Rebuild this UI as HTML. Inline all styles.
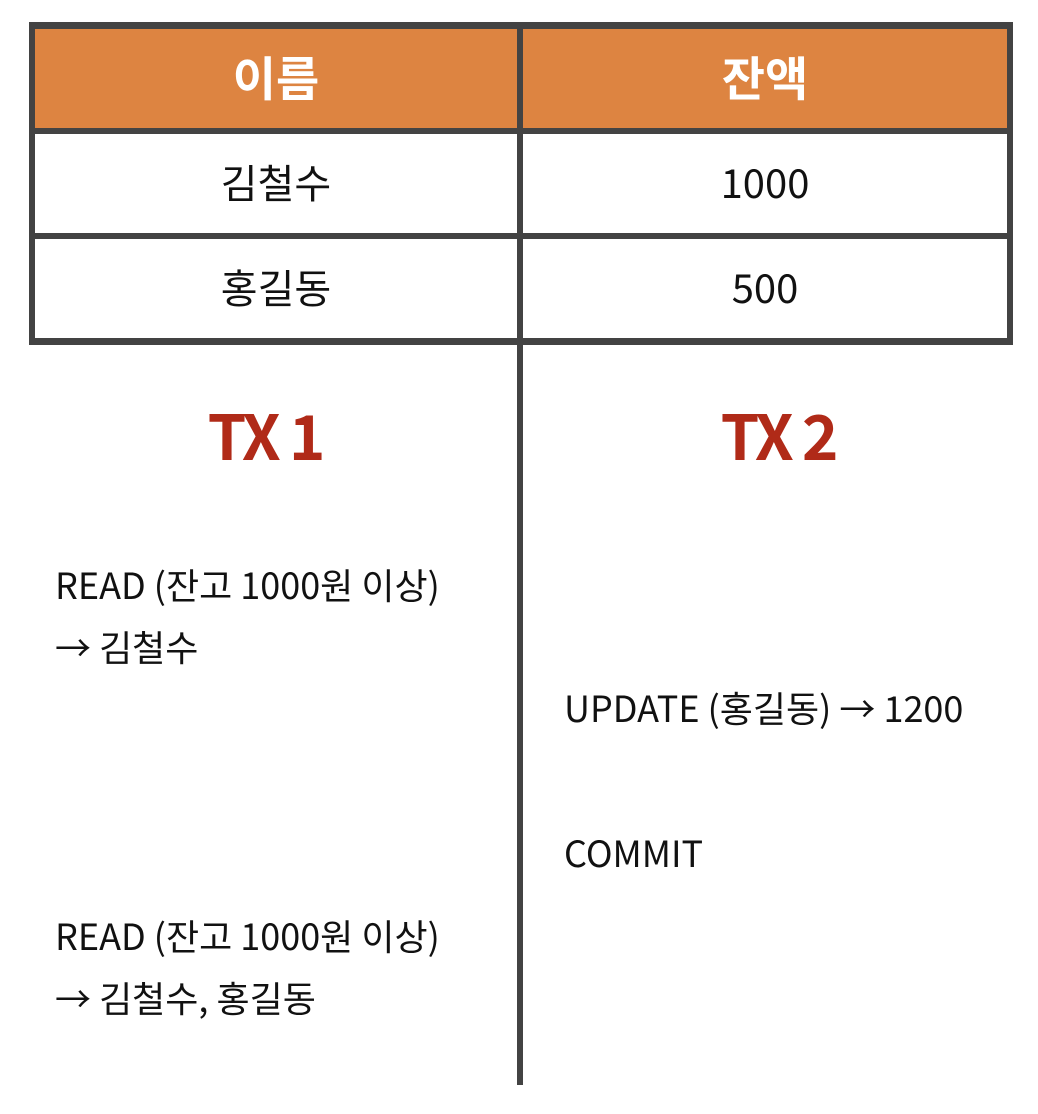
<!DOCTYPE html>
<html><head><meta charset="utf-8"><style>
body{margin:0;width:1038px;height:1114px;background:#fff;position:relative;overflow:hidden;font-family:"Noto Sans CJK KR","Liberation Sans",sans-serif;}
div{position:absolute;}
.b{background:#434343;}
.c{display:flex;align-items:center;justify-content:center;font-size:40px;color:#111;padding-bottom:6px;box-sizing:border-box;}
.t{font-size:36px;color:#111;white-space:nowrap;line-height:1;}
.tx{font-size:62px;font-weight:bold;color:#B02A18;letter-spacing:-3px;text-align:center;width:300px;line-height:1;}
</style></head><body>
<div style="left:29px;top:22px;width:984px;height:110px;background:#DD8441;"></div>
<div class="c" style="left:35px;top:29px;width:482px;height:99px;color:#fff;font-weight:bold;font-size:47px;">이름</div>
<div class="c" style="left:523px;top:29px;width:484px;height:99px;color:#fff;font-weight:bold;font-size:47px;">잔액</div>
<div class="c" style="left:35px;top:134px;width:482px;height:99px;">김철수</div>
<div class="c" style="left:523px;top:134px;width:484px;height:99px;">1000</div>
<div class="c" style="left:35px;top:239px;width:482px;height:99px;">홍길동</div>
<div class="c" style="left:523px;top:239px;width:484px;height:99px;">500</div>
<div class="b" style="left:29px;top:22px;width:984px;height:7px;"></div>
<div class="b" style="left:29px;top:128px;width:984px;height:6px;"></div>
<div class="b" style="left:29px;top:233px;width:984px;height:6px;"></div>
<div class="b" style="left:29px;top:338px;width:984px;height:7px;"></div>
<div class="b" style="left:29px;top:22px;width:6px;height:323px;"></div>
<div class="b" style="left:1007px;top:22px;width:6px;height:323px;"></div>
<div class="b" style="left:517px;top:22px;width:6px;height:1063px;"></div>
<div class="tx" style="left:115px;top:402px;">TX 1</div>
<div class="tx" style="left:628px;top:402px;">TX 2</div>
<div class="t" style="left:55px;top:566px;">READ (잔고 1000원 이상)</div>
<div class="t" style="left:55px;top:628px;">→ 김철수</div>
<div class="t" style="left:564px;top:689px;">UPDATE (홍길동) → 1200</div>
<div class="t" style="left:564px;top:834px;">COMMIT</div>
<div class="t" style="left:55px;top:917px;">READ (잔고 1000원 이상)</div>
<div class="t" style="left:55px;top:979px;">→ 김철수, 홍길동</div>
</body></html>
